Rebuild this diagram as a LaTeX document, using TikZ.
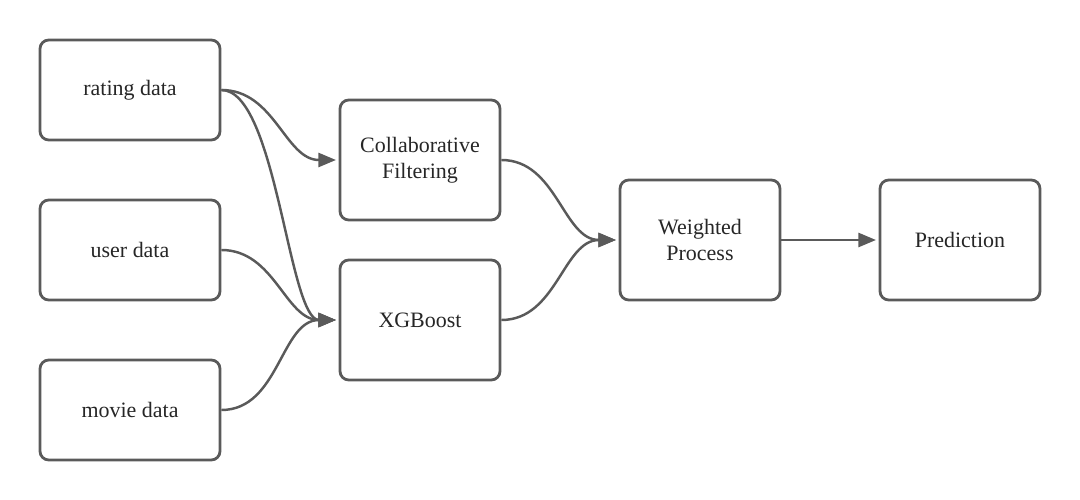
\documentclass[tikz,border=0pt]{standalone}
\usepackage{fontspec}
\setmainfont{Liberation Serif}
\usepackage{xcolor}
\usepackage{tikz}
\usetikzlibrary{arrows.meta,positioning}
\definecolor{boxgray}{RGB}{90,90,90}

\begin{document}
\begin{tikzpicture}[
    databox/.style={draw=boxgray, rounded corners=5pt, minimum width=3.6cm, minimum height=2cm, line width=1.6pt, align=center, font=\fontsize{12.5}{15}\selectfont, text=black!85},
    procbox/.style={databox, minimum width=3.2cm, minimum height=2.4cm},
    flow/.style={-{Triangle[length=10pt,width=8pt]}, line width=1.4pt, boxgray, shorten >=1.5pt},
]
\useasboundingbox (0,0) rectangle (21.6,-10);

% === Input data ===
\node[databox] (rating) at (2.6, -1.8) {rating data};
\node[databox] (user)   at (2.6, -5.0) {user data};
\node[databox] (movie)  at (2.6, -8.2) {movie data};

% === Models ===
\node[procbox] (cf)  at (8.4, -3.2) {Collaborative\\Filtering};
\node[procbox] (xgb) at (8.4, -6.4) {XGBoost};

% === Combination and output ===
\node[procbox] (weighted) at (14.0, -4.8) {Weighted\\Process};
\node[procbox] (pred)     at (19.2, -4.8) {Prediction};

% Curved connectors
\draw[flow] (rating.east) to[out=0, in=180] (cf.west);
\draw[flow] (rating.east) .. controls +(right:1.1) and +(left:1.0) .. (xgb.west);
\draw[flow] (user.east)   to[out=0, in=180] (xgb.west);
\draw[flow] (movie.east)  to[out=0, in=180] (xgb.west);
\draw[flow] (cf.east)     to[out=0, in=180] (weighted.west);
\draw[flow] (xgb.east)    to[out=0, in=180] (weighted.west);
\draw[flow] (weighted) -- (pred);

\end{tikzpicture}
\end{document}
